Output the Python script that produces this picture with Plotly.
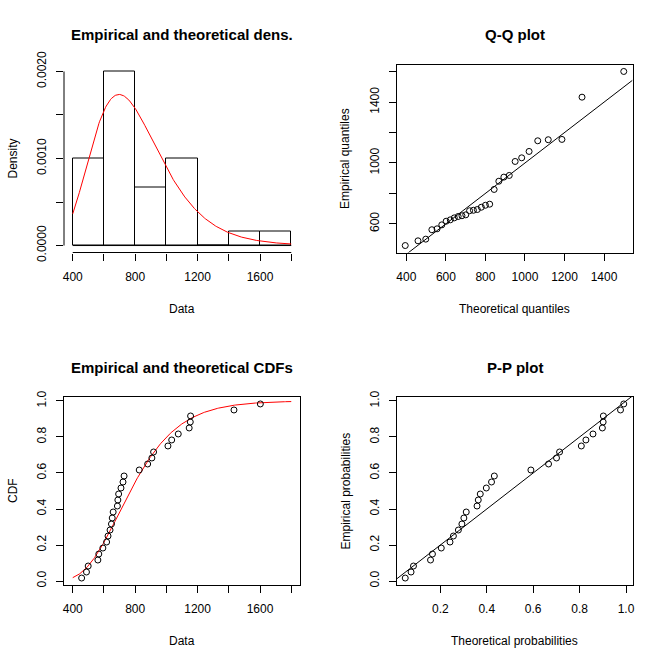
import numpy as np
import plotly.graph_objects as go
from statistics import NormalDist

# ---------------- data ----------------
DATA = [457, 488, 499, 561, 567, 593, 617, 626, 639, 648, 653, 659, 686, 689,
        694, 709, 722, 729, 826, 880, 907, 918, 1010, 1034, 1076, 1146, 1153,
        1155, 1433, 1602]
BREAKS = [400, 600, 800, 1000, 1200, 1400, 1600, 1800]
MEANLOG = 6.645   # fitted lognormal parameters
SDLOG = 0.314

TITLES = ["Empirical and theoretical dens.", "Q-Q plot",
          "Empirical and theoretical CDFs", "P-P plot"]
XTITLES = ["Data", "Theoretical quantiles", "Data", "Theoretical probabilities"]
YTITLES = ["Density", "Empirical quantiles", "CDF", "Empirical probabilities"]

HIST_XTICKS = [400, 600, 800, 1000, 1200, 1400, 1600, 1800]
HIST_XTEXT = ["400", "", "800", "", "1200", "", "1600", ""]
HIST_YTICKS = [0, 0.0005, 0.0010, 0.0015, 0.0020]
HIST_YTEXT = ["0.0000", "", "0.0010", "", "0.0020"]
QQ_XTICKS = [400, 600, 800, 1000, 1200, 1400]
QQ_XTEXT = ["400", "600", "800", "1000", "1200", "1400"]
QQ_YTICKS = [600, 800, 1000, 1200, 1400, 1600]
QQ_YTEXT = ["600", "", "1000", "", "1400", ""]
PROB_TICKS = [0.0, 0.2, 0.4, 0.6, 0.8, 1.0]
PROB_TEXT = ["0.0", "0.2", "0.4", "0.6", "0.8", "1.0"]
PP_XTICKS = [0.2, 0.4, 0.6, 0.8, 1.0]
PP_XTEXT = ["0.2", "0.4", "0.6", "0.8", "1.0"]

# ---------------- derived quantities ----------------
nd = NormalDist()
data = np.sort(np.array(DATA, dtype=float))
n = len(data)
pp = (np.arange(1, n + 1) - 0.5) / n


def plnorm(x):
    return np.array([nd.cdf((np.log(v) - MEANLOG) / SDLOG) for v in np.atleast_1d(x)])


def qlnorm(p):
    return np.array([np.exp(MEANLOG + SDLOG * nd.inv_cdf(v)) for v in np.atleast_1d(p)])


def dlnorm(x):
    x = np.asarray(x, dtype=float)
    return np.exp(-(np.log(x) - MEANLOG) ** 2 / (2 * SDLOG ** 2)) / (x * SDLOG * np.sqrt(2 * np.pi))


def rng(lo, hi):
    d = (hi - lo) * 0.04
    return [lo - d, hi + d]


dens, _ = np.histogram(data, bins=BREAKS, density=True)
centers = [(BREAKS[i] + BREAKS[i + 1]) / 2 for i in range(len(BREAKS) - 1)]
widths = [BREAKS[i + 1] - BREAKS[i] for i in range(len(BREAKS) - 1)]
xgrid = np.linspace(BREAKS[0], BREAKS[-1], 301)
theo_q = qlnorm(pp)
theo_p = plnorm(data)

W = H = 665
FONT = "Liberation Sans, Arial, sans-serif"


def fx(p):
    return p / W


def fy(p):
    return 1 - p / H


LX = [fx(64), fx(300)]
RX = [fx(396.5), fx(632.5)]
TY = [fy(252.5), fy(64.5)]
BY = [fy(585), fy(397)]

fig = go.Figure()

# 1. histogram + density
fig.add_trace(go.Bar(x=centers, y=dens, width=widths, marker=dict(color="white", line=dict(color="black", width=1)),
                     xaxis="x", yaxis="y", showlegend=False))
fig.add_trace(go.Scatter(x=[BREAKS[0], BREAKS[-1]], y=[0, 0], mode="lines", line=dict(color="black", width=1),
                         xaxis="x", yaxis="y", showlegend=False))
fig.add_trace(go.Scatter(x=xgrid, y=dlnorm(xgrid), mode="lines", line=dict(color="red", width=1),
                         xaxis="x", yaxis="y", showlegend=False))

# 2. Q-Q plot
qqx = rng(theo_q.min(), theo_q.max())
qqy = rng(data.min(), data.max())
fig.add_trace(go.Scatter(x=theo_q, y=data, mode="markers",
                         marker=dict(symbol="circle-open", size=6, color="black", line=dict(width=1)),
                         xaxis="x2", yaxis="y2", showlegend=False))
fig.add_trace(go.Scatter(x=qqx, y=qqx, mode="lines", line=dict(color="black", width=1),
                         xaxis="x2", yaxis="y2", showlegend=False))

# 3. CDF
fig.add_trace(go.Scatter(x=xgrid, y=plnorm(xgrid), mode="lines", line=dict(color="red", width=1),
                         xaxis="x3", yaxis="y3", showlegend=False))
fig.add_trace(go.Scatter(x=data, y=pp, mode="markers",
                         marker=dict(symbol="circle-open", size=6, color="black", line=dict(width=1)),
                         xaxis="x3", yaxis="y3", showlegend=False))

# 4. P-P plot
ppx = rng(theo_p.min(), theo_p.max())
ppy = rng(pp.min(), pp.max())
fig.add_trace(go.Scatter(x=theo_p, y=pp, mode="markers",
                         marker=dict(symbol="circle-open", size=6, color="black", line=dict(width=1)),
                         xaxis="x4", yaxis="y4", showlegend=False))
fig.add_trace(go.Scatter(x=ppx, y=ppx, mode="lines", line=dict(color="black", width=1),
                         xaxis="x4", yaxis="y4", showlegend=False))

tickfont = dict(family=FONT, size=12, color="black")


def ax(domain, anchor, rngv, tv, tt, box=True, angle=0, standoff=6):
    return dict(domain=domain, anchor=anchor, range=rngv, tickvals=tv, ticktext=tt,
                ticks="outside", ticklen=7, tickwidth=1, tickcolor="black",
                showline=box, mirror=box, linecolor="black", linewidth=1,
                showgrid=False, zeroline=False, tickfont=tickfont, tickangle=angle,
                ticklabelstandoff=standoff, fixedrange=True, automargin=False)


fig.update_layout(
    width=W, height=H, margin=dict(l=0, r=0, t=0, b=0, pad=0, autoexpand=False),
    paper_bgcolor="white", plot_bgcolor="white", bargap=0,
    xaxis=ax(LX, "y", rng(BREAKS[0], BREAKS[-1]), HIST_XTICKS, HIST_XTEXT, box=False),
    yaxis=ax(TY, "x", [-0.00008, 0.00208], HIST_YTICKS, HIST_YTEXT, box=False, angle=-90, standoff=5),
    xaxis2=ax(RX, "y2", qqx, QQ_XTICKS, QQ_XTEXT),
    yaxis2=ax(TY, "x2", qqy, QQ_YTICKS, QQ_YTEXT, angle=-90, standoff=5),
    xaxis3=ax(LX, "y3", rng(BREAKS[0], BREAKS[-1]), HIST_XTICKS, HIST_XTEXT),
    yaxis3=ax(BY, "x3", ppy, PROB_TICKS, PROB_TEXT, angle=-90, standoff=5),
    xaxis4=ax(RX, "y4", ppx, PP_XTICKS, PP_XTEXT),
    yaxis4=ax(BY, "x4", ppy, PROB_TICKS, PROB_TEXT, angle=-90, standoff=5),
)

# histogram axis lines (only between first and last tick, as in R)
fig.add_shape(type="line", xref="x", yref="y domain", x0=HIST_XTICKS[0], x1=HIST_XTICKS[-1], y0=0, y1=0,
              line=dict(color="black", width=1))
fig.add_shape(type="line", xref="x domain", yref="y", x0=0, x1=0, y0=HIST_YTICKS[0], y1=HIST_YTICKS[-1],
              line=dict(color="black", width=1))

ann = []
tcx = [182, 514.5, 182, 514.5]
tcy = [35, 35, 367, 367]
xty = [308.5, 308.5, 641, 641]
ytx = [13, 345.5, 13, 345.5]
yty = [158.5, 158.5, 491, 491]
for i in range(4):
    ann.append(dict(text="<b>" + TITLES[i] + "</b>", x=fx(tcx[i]), y=fy(tcy[i]), xref="paper", yref="paper",
                    showarrow=False, xanchor="center", yanchor="middle",
                    font=dict(family=FONT, size=15, color="black")))
    ann.append(dict(text=XTITLES[i], x=fx(tcx[i]), y=fy(xty[i]), xref="paper", yref="paper",
                    showarrow=False, xanchor="center", yanchor="middle",
                    font=dict(family=FONT, size=12, color="black")))
    ann.append(dict(text=YTITLES[i], x=fx(ytx[i]), y=fy(yty[i]), xref="paper", yref="paper",
                    showarrow=False, xanchor="center", yanchor="middle", textangle=-90,
                    font=dict(family=FONT, size=12, color="black")))
fig.update_layout(annotations=ann)

fig.write_html("out.html", config={"displayModeBar": False},
               post_script="document.body.style.margin='0px';document.body.style.padding='0px';")
